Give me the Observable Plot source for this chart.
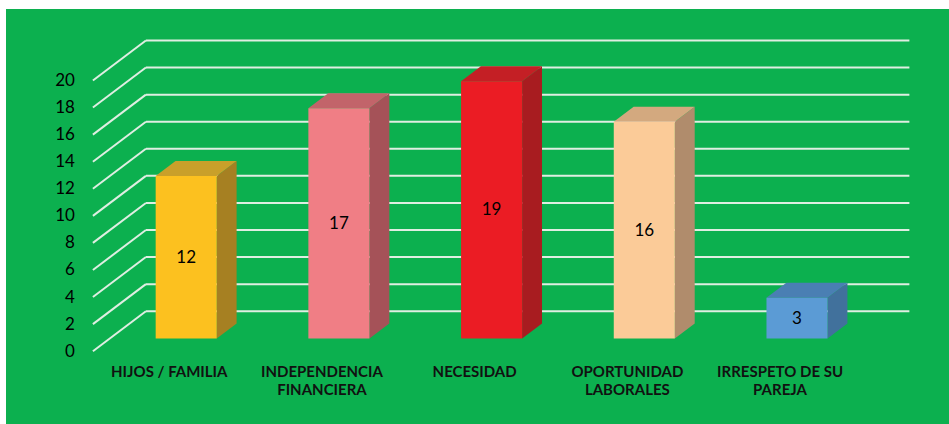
<!DOCTYPE html>
<html>
<head>
<meta charset="utf-8">
<script src="https://cdn.jsdelivr.net/npm/d3@7"></script>
<script src="https://cdn.jsdelivr.net/npm/@observablehq/plot@0.6"></script>
<style>
  html, body { margin: 0; padding: 0; background: #ffffff; }
  #chart { position: absolute; left: 6px; top: 9px; width: 943px; height: 415px; background: #0cb04f; }
</style>
</head>
<body>
<div id="chart"></div>
<script>
// ---- data ----
const categories = ["HIJOS / FAMILIA", "INDEPENDENCIA\nFINANCIERA", "NECESIDAD", "OPORTUNIDAD\nLABORALES", "IRRESPETO DE SU\nPAREJA"];
const values = [12, 17, 19, 16, 3];
const yTicks = [0, 2, 4, 6, 8, 10, 12, 14, 16, 18, 20];
const frontColors = ["#fcc11f", "#f07e85", "#eb1c24", "#fbcb98", "#5b9bd5"];
const sideColors  = ["#a68022", "#a55258", "#a81c20", "#b08c6c", "#41719c"];
const topColors   = ["#c9a02a", "#c2646a", "#c41f25", "#d3a97f", "#4a7fb3"];

// ---- 3D geometry (in data units) ----
const DX = 0.347;   // full wall depth, x units
const DY = 2.955;   // full wall depth, y units
const d0 = 0.32, d1 = 0.695; // bar front / back depth fractions
const hw = 0.2;     // half bar width
const ddx = (d1 - d0) * DX, ddy = (d1 - d0) * DY;

const faces = [];
values.forEach((v, i) => {
  const xL = i - hw + d0 * DX, xR = i + hw + d0 * DX;
  const yb = d0 * DY, yt = v + d0 * DY;
  const side = [[xR, yb], [xR + ddx, yb + ddy], [xR + ddx, yt + ddy], [xR, yt]];
  const top = [[xL, yt], [xR, yt], [xR + ddx, yt + ddy], [xL + ddx, yt + ddy]];
  const front = [[xL, yb], [xR, yb], [xR, yt], [xL, yt]];
  [["side", side, sideColors[i]], ["top", top, topColors[i]], ["front", front, frontColors[i]]]
    .forEach(([name, pts, col]) => pts.forEach(([x, y]) => faces.push({id: name + i, x, y, color: col})));
});

const labels = values.map((v, i) => ({x: i + d0 * DX, y: d0 * DY + v / 2, text: String(v)}));
const cats = categories.map((c, i) => ({x: i, text: c}));

const x0 = -0.5, x1 = categories.length - 0.5;

const plot = Plot.plot({
  width: 943,
  height: 415,
  marginLeft: 86.4,
  marginRight: 93.1,
  marginTop: 71,
  marginBottom: 73.3,
  x: {domain: [x0, x1], axis: null},
  y: {domain: [0, 20], axis: null},
  color: {type: "identity"},
  style: {fontFamily: "Lato, 'Open Sans', sans-serif", background: "transparent", overflow: "visible"},
  marks: [
    Plot.link(yTicks, {x1: x0, y1: d => d, x2: x0 + DX, y2: d => d + DY, stroke: "#dfeee2", strokeWidth: 2}),
    Plot.link(yTicks, {x1: x0 + DX, y1: d => d + DY, x2: x1 + DX, y2: d => d + DY, stroke: "#dfeee2", strokeWidth: 2}),
    Plot.line(faces, {x: "x", y: "y", z: "id", fill: "color", stroke: "none", curve: "linear-closed"}),
    Plot.text(labels, {x: "x", y: "y", text: "text", fontSize: 17, fill: "#000"}),
    Plot.text(yTicks, {x: x0, y: d => d, text: d => String(d), dx: -18, textAnchor: "end", fontSize: 17, fill: "#000"}),
    Plot.text(cats, {x: "x", y: 0, text: "text", dy: 14, lineAnchor: "top", lineHeight: 1.15, fontSize: 15, fontWeight: "bold", fill: "#111"})
  ]
});
document.getElementById("chart").appendChild(plot);
</script>
</body>
</html>
